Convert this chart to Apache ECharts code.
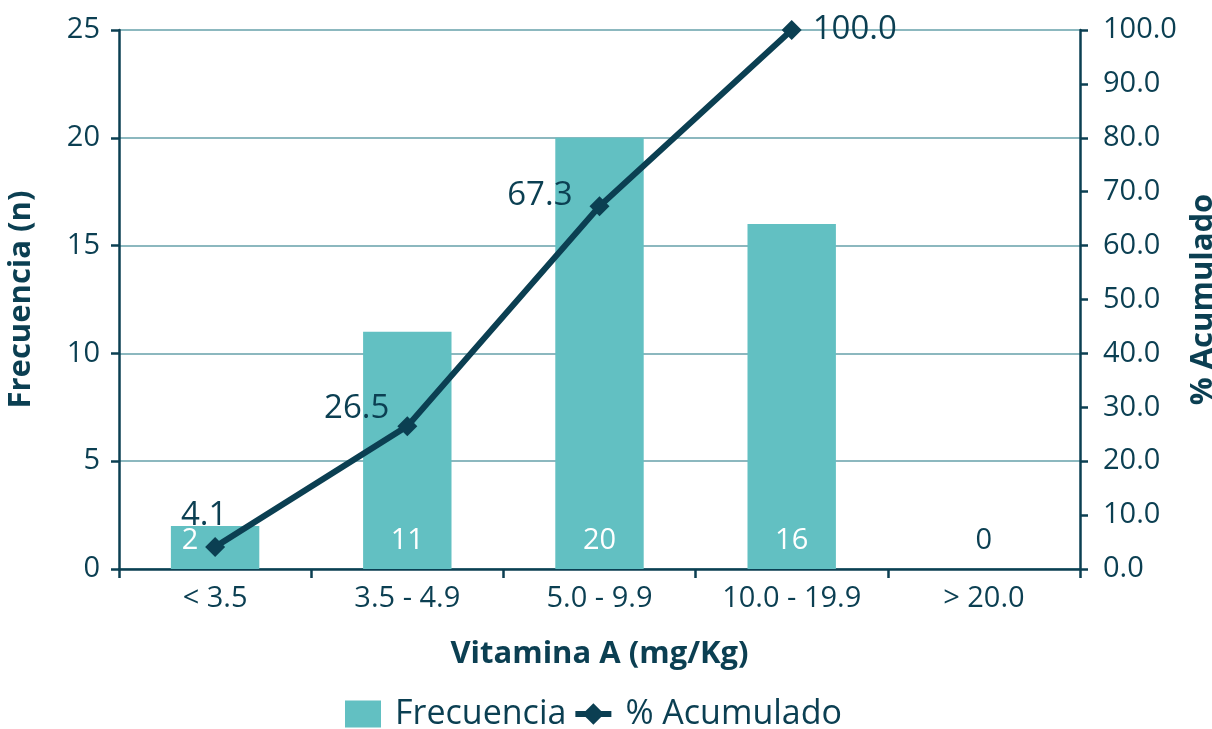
<!DOCTYPE html>
<html>
<head>
<meta charset="utf-8">
<script src="https://cdn.jsdelivr.net/npm/echarts@6/dist/echarts.min.js"></script>
<style>
  html, body { margin: 0; padding: 0; background: #ffffff; }
  #chart { width: 1212px; height: 729px; }
</style>
</head>
<body>
<div id="chart"></div>
<script>
// Vitamin A ranges and their counts
const categories = ['< 3.5', '3.5 - 4.9', '5.0 - 9.9', '10.0 - 19.9', '> 20.0'];
const frecuencia = [2, 11, 20, 16, 0];
const acumulado = [4.1, 26.5, 67.3, 100.0, null];
const leftTicks = { min: 0, max: 25, interval: 5 };
const rightTicks = { min: 0, max: 100, interval: 10 };

const DARK = '#0b3f52';
const TEAL = '#62c0c2';
const GRID = '#8cb8bf';
const FONT = '"Open Sans", "Noto Sans", sans-serif';

// Placement of each cumulative % label around its marker
const lineLabelPlacement = [
  { position: 'top', offset: [-11, 5] },
  { position: 'left', offset: [2, -18] },
  { position: 'left', offset: [-7, -11] },
  { position: 'right', offset: [1, 0] },
  { position: 'top', offset: [0, 0] }
];

// Bar value labels: the first one sits left of the line marker, the empty bar's label is dark
const barLabelStyle = [
  { offset: [-25, 0] },
  {},
  {},
  {},
  { color: DARK }
];

const chart = echarts.init(document.getElementById('chart'), null, { renderer: 'canvas' });

chart.setOption({
  backgroundColor: '#ffffff',
  textStyle: { fontFamily: FONT, color: DARK },
  animation: false,
  grid: {
    left: 119, right: 132, top: 30, bottom: 160,
    containLabel: false,
    outerBoundsMode: 'none'
  },
  legend: {
    top: 692,
    left: 340,
    itemGap: 6,
    itemWidth: 36,
    itemHeight: 27,
    textStyle: { fontSize: 34, color: DARK, fontFamily: FONT, padding: [0, 0, 0, 9] },
    data: [
      { name: 'Frecuencia', icon: 'rect' },
      { name: '% Acumulado', lineStyle: { width: 6, color: DARK }, itemStyle: { color: DARK } }
    ]
  },
  xAxis: {
    type: 'category',
    data: categories,
    name: 'Vitamina A (mg/Kg)',
    nameLocation: 'middle',
    nameGap: 70,
    nameTextStyle: { fontSize: 31, fontWeight: 'bold', color: DARK, fontFamily: FONT },
    axisLine: { lineStyle: { color: DARK, width: 2.5 } },
    axisTick: { show: true, length: 9, lineStyle: { color: DARK, width: 2.5 } },
    axisLabel: { fontSize: 29, color: DARK, margin: 15, fontFamily: FONT }
  },
  yAxis: [
    {
      type: 'value',
      min: leftTicks.min,
      max: leftTicks.max,
      interval: leftTicks.interval,
      name: 'Frecuencia (n)',
      nameLocation: 'middle',
      nameRotate: 90,
      nameGap: 82,
      nameTextStyle: { fontSize: 31, fontWeight: 'bold', color: DARK, fontFamily: FONT },
      axisLine: { show: true, lineStyle: { color: DARK, width: 2.5 } },
      axisTick: { show: true, length: 8, lineStyle: { color: DARK, width: 2.5 } },
      axisLabel: { fontSize: 29, color: DARK, margin: 19, fontFamily: FONT },
      splitLine: { show: true, lineStyle: { color: GRID, width: 2 } }
    },
    {
      type: 'value',
      position: 'right',
      min: rightTicks.min,
      max: rightTicks.max,
      interval: rightTicks.interval,
      name: '% Acumulado',
      nameLocation: 'middle',
      nameRotate: 90,
      nameGap: 96,
      nameTextStyle: { fontSize: 31, fontWeight: 'bold', color: DARK, fontFamily: FONT },
      axisLine: { show: true, lineStyle: { color: DARK, width: 2.5 } },
      axisTick: { show: true, length: 8, lineStyle: { color: DARK, width: 2.5 } },
      axisLabel: {
        fontSize: 29, color: DARK, margin: 23, fontFamily: FONT,
        formatter: v => v.toFixed(1)
      },
      splitLine: { show: false }
    }
  ],
  series: [
    {
      name: 'Frecuencia',
      type: 'bar',
      yAxisIndex: 0,
      barWidth: '46%',
      itemStyle: { color: TEAL },
      data: frecuencia.map((v, i) => ({
        value: v,
        label: barLabelStyle[i]
      })),
      label: {
        show: true,
        position: 'insideBottom',
        distance: 14,
        fontSize: 29,
        color: '#ffffff',
        fontFamily: FONT
      },
      z: 2
    },
    {
      name: '% Acumulado',
      type: 'line',
      yAxisIndex: 1,
      symbol: 'diamond',
      symbolSize: 20,
      connectNulls: false,
      lineStyle: { color: DARK, width: 6 },
      itemStyle: { color: DARK },
      data: acumulado.map((v, i) => ({
        value: v,
        label: lineLabelPlacement[i]
      })),
      label: {
        show: true,
        fontSize: 33,
        color: DARK,
        distance: 10,
        fontFamily: FONT,
        formatter: p => p.value == null ? '' : Number(p.value).toFixed(1)
      },
      z: 3
    }
  ]
});
</script>
</body>
</html>
